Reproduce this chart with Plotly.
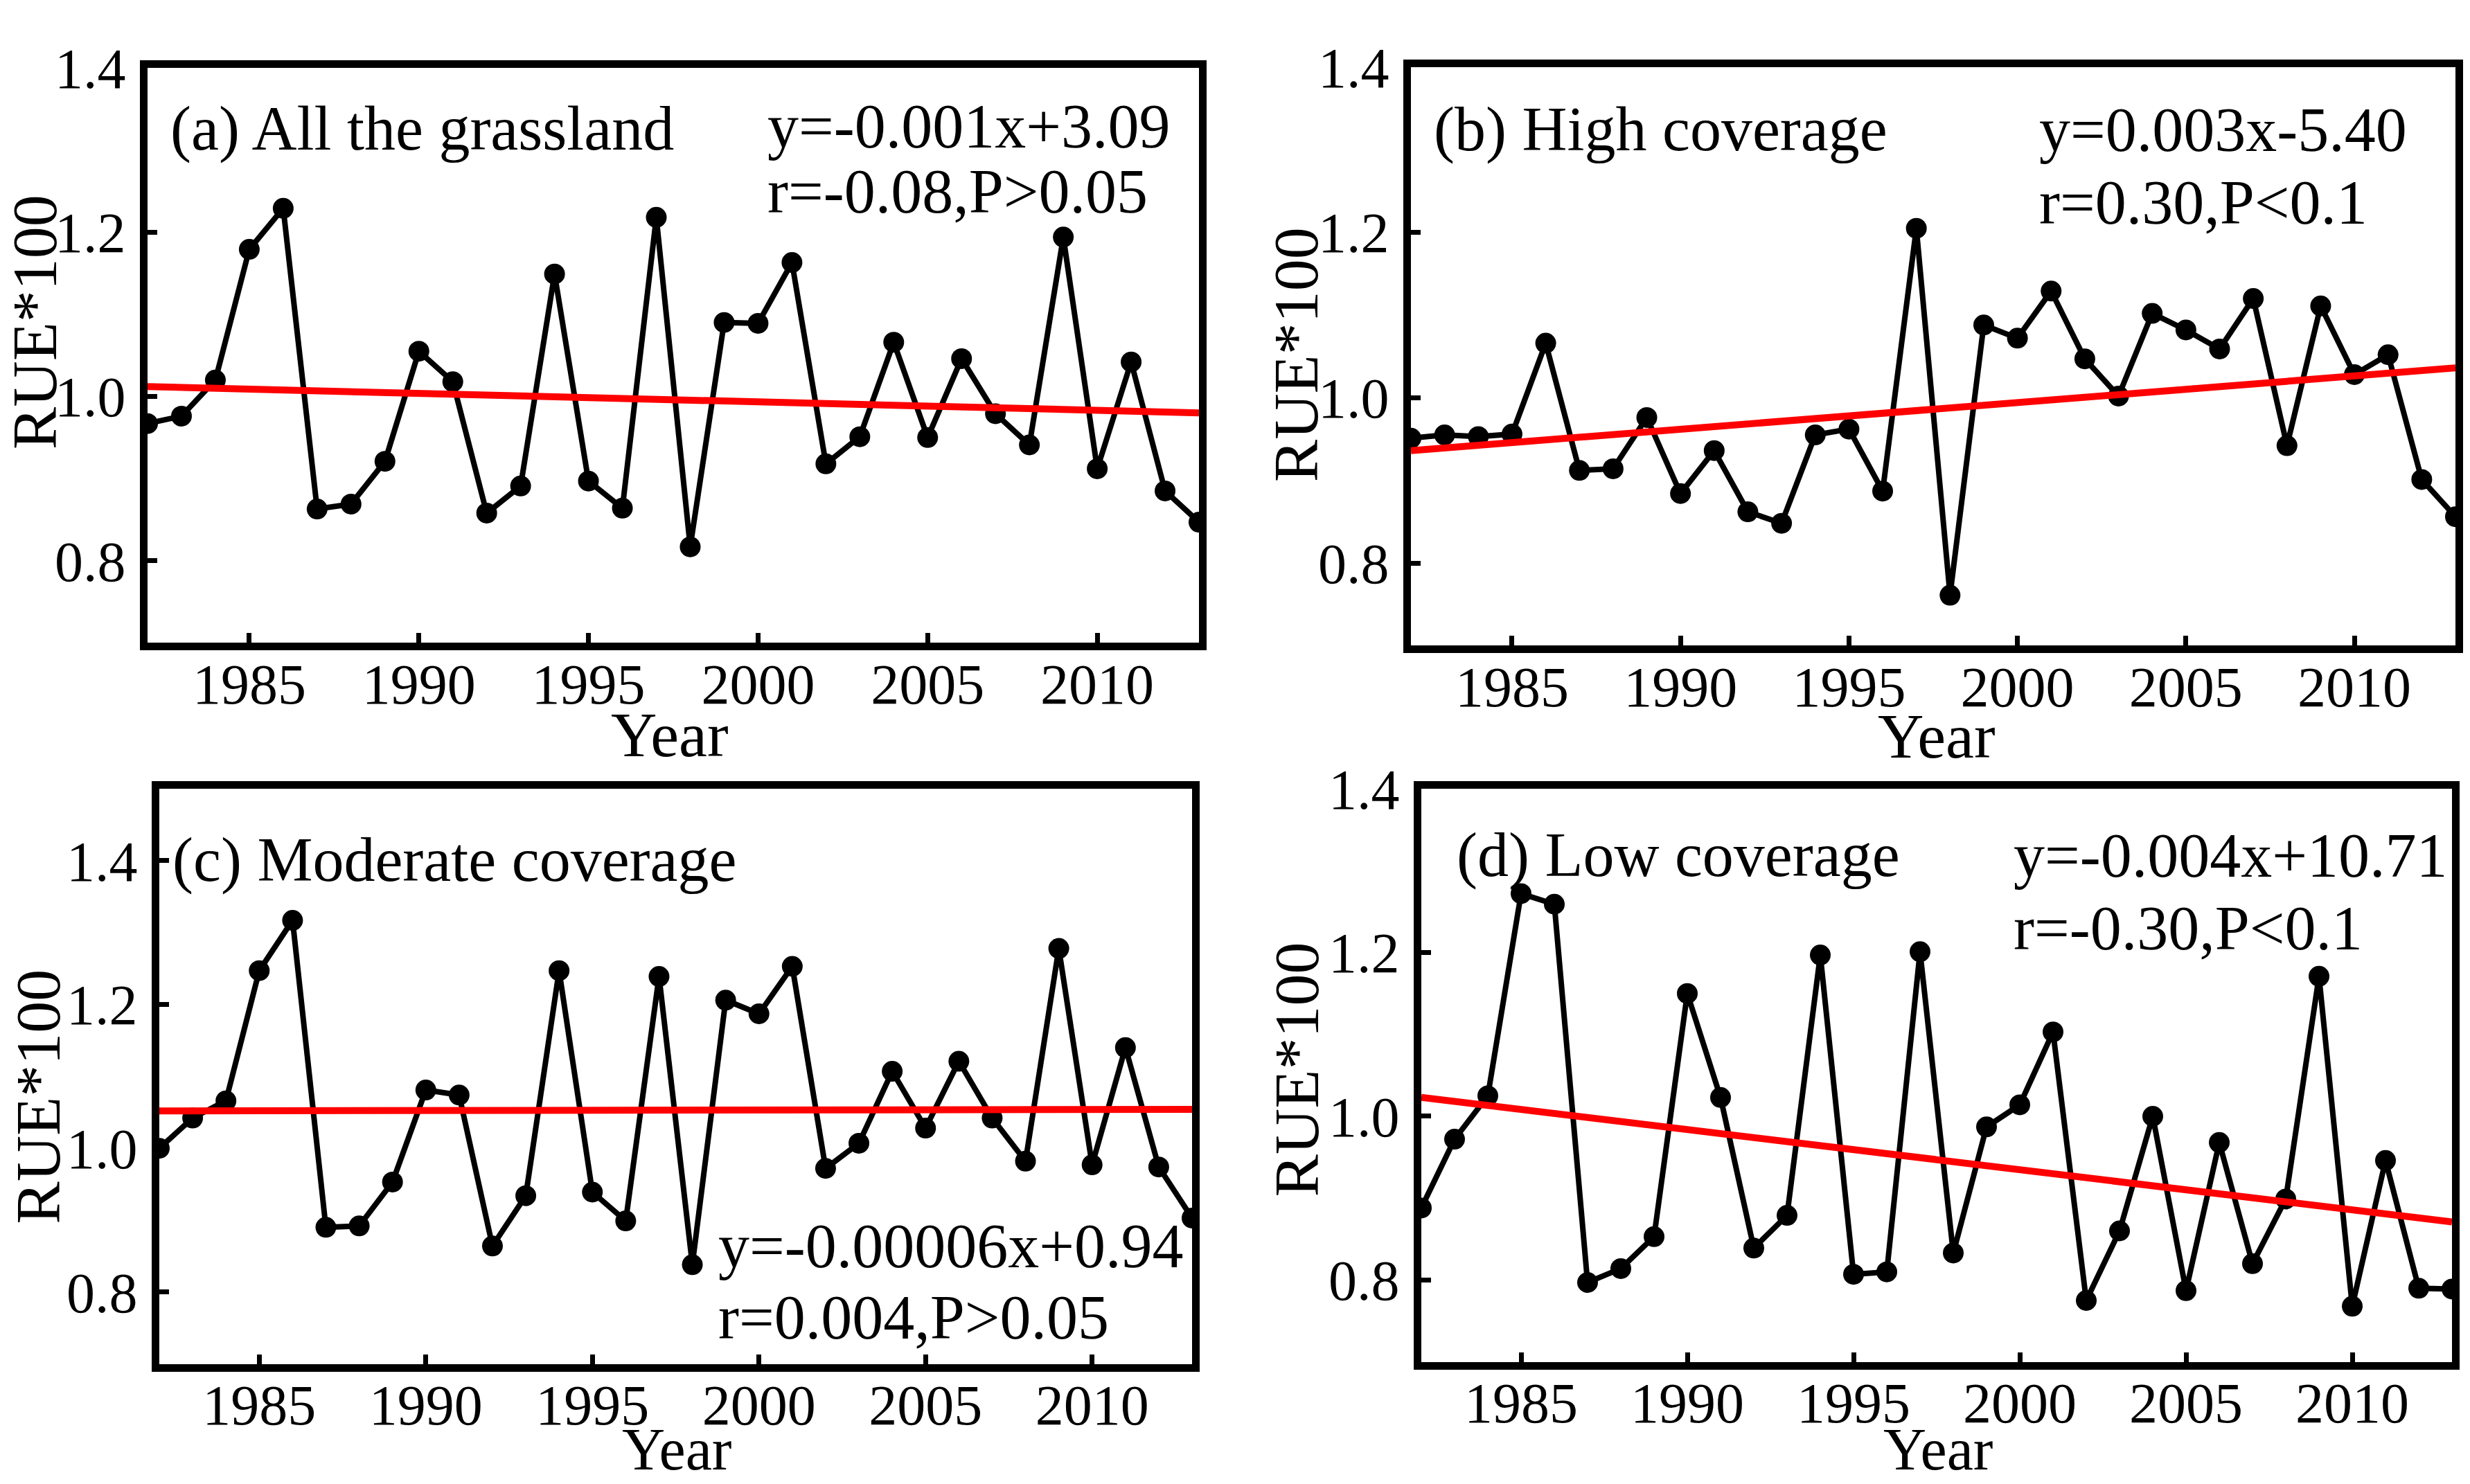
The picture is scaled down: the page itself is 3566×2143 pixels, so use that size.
import plotly.graph_objects as go

years = list(range(1982, 2014))

rue_all = [0.967, 0.976, 1.020, 1.179, 1.229, 0.863, 0.869, 0.921, 1.055, 1.018,
           0.858, 0.891, 1.149, 0.897, 0.864, 1.218, 0.817, 1.090, 1.089, 1.163,
           0.918, 0.951, 1.066, 0.950, 1.046, 0.979, 0.941, 1.194, 0.912, 1.042,
           0.885, 0.847]
rue_high = [0.951, 0.955, 0.953, 0.956, 1.066, 0.912, 0.914, 0.976, 0.884, 0.936,
            0.862, 0.848, 0.955, 0.962, 0.887, 1.205, 0.761, 1.088, 1.072, 1.129,
            1.047, 1.002, 1.102, 1.082, 1.059, 1.120, 0.942, 1.111, 1.028, 1.052,
            0.901, 0.856]
rue_mod = [1.000, 1.042, 1.066, 1.247, 1.317, 0.890, 0.892, 0.953, 1.081, 1.074,
           0.864, 0.934, 1.247, 0.939, 0.899, 1.239, 0.838, 1.206, 1.187, 1.253,
           0.972, 1.007, 1.107, 1.028, 1.121, 1.042, 0.982, 1.278, 0.977, 1.140,
           0.974, 0.903]
rue_low = [0.888, 0.972, 1.025, 1.272, 1.259, 0.797, 0.814, 0.853, 1.150, 1.023,
           0.839, 0.879, 1.197, 0.807, 0.810, 1.201, 0.833, 0.987, 1.014, 1.103,
           0.775, 0.860, 1.000, 0.787, 0.968, 0.820, 0.899, 1.171, 0.768, 0.946,
           0.790, 0.789]

trend_years = [1982, 2013]
trend_all = [1.012, 0.980]
trend_high = [0.936, 1.036]
trend_mod = [1.052, 1.054]
trend_low = [1.023, 0.871]

panel_labels = ["(a) All the grassland", "(b) High coverage",
                "(c) Moderate coverage", "(d) Low coverage"]
eq_lines = ["y=-0.001x+3.09", "y=0.003x-5.40", "y=-0.00006x+0.94", "y=-0.004x+10.71"]
stat_lines = ["r=-0.08,P>0.05", "r=0.30,P<0.1", "r=0.004,P>0.05", "r=-0.30,P<0.1"]
x_ticks = [1985, 1990, 1995, 2000, 2005, 2010]
y_ticks = [0.8, 1.0, 1.2, 1.4]
y_tick_text = ["0.8", "1.0", "1.2", "1.4"]
y_ranges = [[0.7, 1.4], [0.7, 1.4], [0.7, 1.5], [0.7, 1.4]]

W, H = 3566, 2143
# panel frames in pixels: (left, right, top, bottom)
frames = [(213, 1731, 55, 903), (2037, 3545, 54, 907),
          (230, 1721, 1118, 1966), (2052, 3540, 1118, 1963)]

FONT = "Liberation Serif, Times New Roman, serif"
series = [rue_all, rue_high, rue_mod, rue_low]
trends = [trend_all, trend_high, trend_mod, trend_low]

fig = go.Figure()
layout = dict(width=W, height=H, margin=dict(l=0, r=0, t=0, b=0),
              plot_bgcolor="white", paper_bgcolor="white", showlegend=False,
              font=dict(family=FONT, color="black"))
annotations = []


def px(x):
    return x / W


def py(y):
    return 1 - y / H


for i in range(4):
    n = "" if i == 0 else str(i + 1)
    xa, ya = "x" + n, "y" + n
    l, r, t, b = frames[i]
    fig.add_trace(go.Scatter(x=years, y=series[i], mode="lines+markers",
                             line=dict(color="black", width=8),
                             marker=dict(color="black", size=30),
                             xaxis=xa, yaxis=ya))
    fig.add_trace(go.Scatter(x=trend_years, y=trends[i], mode="lines",
                             line=dict(color="#ff0000", width=10),
                             xaxis=xa, yaxis=ya))
    layout["xaxis" + n] = dict(domain=[px(l), px(r)], range=[1982, 2013], anchor=ya,
                               tickvals=x_ticks, ticks="inside", ticklen=14, tickwidth=7,
                               tickcolor="black", showline=True, linecolor="black",
                               linewidth=11, mirror=True, showgrid=False, zeroline=False,
                               ticklabelstandoff=-22,
                               tickfont=dict(family=FONT, size=82, color="black"))
    layout["yaxis" + n] = dict(domain=[py(b), py(t)], range=y_ranges[i], anchor=xa,
                               tickvals=y_ticks, ticktext=y_tick_text, ticks="inside",
                               ticklen=14, tickwidth=7, tickcolor="black", showline=True,
                               linecolor="black", linewidth=11, mirror=True,
                               showgrid=False, zeroline=False, ticklabelstandoff=4,
                               tickfont=dict(family=FONT, size=82, color="black"))

label_pos = [(244, 145), (2068, 146), (247, 1223), (2101, 1216)]
eq_pos = [(1106, 141), (2942, 146), (1035, 1792), (2905, 1216)]
stat_pos = [(1106, 237), (2942, 254), (1035, 1897), (2905, 1324)]
year_pos = [(967, 1038), (2796, 1040), (977, None), (2798, None)]
rue_pos = [(50, 430), (1871, 478), (55, 1572), (1872, 1532)]

for i in range(4):
    for txt, (x, y) in [(panel_labels[i], label_pos[i]), (eq_lines[i], eq_pos[i]),
                        (stat_lines[i], stat_pos[i])]:
        annotations.append(dict(text=txt, x=px(x), y=py(y), xref="paper", yref="paper",
                                xanchor="left", yanchor="middle", showarrow=False,
                                font=dict(family=FONT, size=90, color="black")))
    yx, yy = year_pos[i]
    if yy is None:
        annotations.append(dict(text="Year", x=px(yx), y=0, xref="paper", yref="paper",
                                xanchor="center", yanchor="bottom", showarrow=False,
                                font=dict(family=FONT, size=86, color="black")))
    else:
        annotations.append(dict(text="Year", x=px(yx), y=py(yy), xref="paper",
                                yref="paper", xanchor="center", yanchor="middle",
                                showarrow=False,
                                font=dict(family=FONT, size=92, color="black")))
    annotations.append(dict(text="RUE*100", x=px(rue_pos[i][0]), y=py(rue_pos[i][1]),
                            xref="paper", yref="paper", xanchor="center", yanchor="middle",
                            textangle=-90, showarrow=False,
                            font=dict(family=FONT, size=92, color="black")))

layout["annotations"] = annotations
fig.update_layout(**layout)
fig.write_html("out.html")
